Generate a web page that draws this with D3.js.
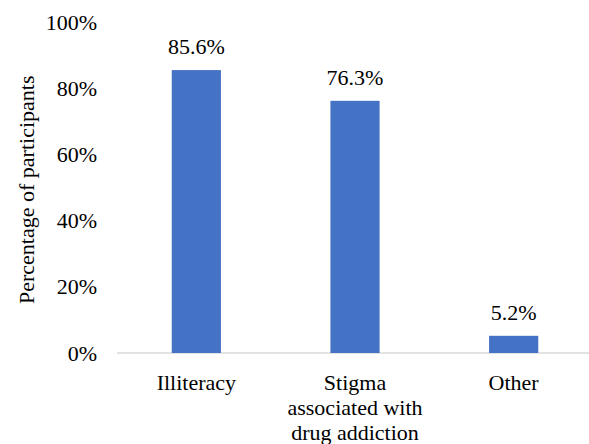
<!DOCTYPE html>
<html>
<head>
<meta charset="utf-8">
<script src="https://cdn.jsdelivr.net/npm/d3@7"></script>
<style>
  body { margin: 0; background: #fff; }
  svg, svg text { font-family: "Liberation Serif", "Times New Roman", "DejaVu Serif", serif !important; fill: #000; }
</style>
</head>
<body>
<div id="chart"></div>
<script>
// Data
const categories = ["Illiteracy", "Stigma associated with drug addiction", "Other"];
const categoryLines = [["Illiteracy"], ["Stigma", "associated with", "drug addiction"], ["Other"]];
const values = [85.6, 76.3, 5.2];
const yTicks = [0, 20, 40, 60, 80, 100];

const serif = "'Liberation Serif', 'Times New Roman', serif";

// Dimensions
const width = 589, height = 444;
const margin = { top: 22.5, right: -4, bottom: 91, left: 117 };

const svg = d3.select("#chart")
    .append("svg")
    .attr("width", width)
    .attr("height", height)
    .attr("font-family", serif);

// Scales
const x = d3.scaleBand()
    .domain(categories)
    .range([margin.left, width - margin.right])
    .paddingInner(0.69)
    .paddingOuter(0.345);

const y = d3.scaleLinear()
    .domain([0, 100])
    .range([height - margin.bottom, margin.top]);

// Y axis (labels only)
const yAxis = svg.append("g")
    .attr("transform", `translate(${margin.left},0)`)
    .call(d3.axisLeft(y).tickValues(yTicks).tickFormat(d => d + "%").tickSize(0).tickPadding(20));
yAxis.attr("font-family", serif).attr("font-size", 22);
yAxis.select(".domain").remove();
yAxis.selectAll(".tick text")
    .attr("font-family", serif)
    .attr("fill", "#000");

// Baseline
svg.append("line")
    .attr("x1", margin.left)
    .attr("x2", width)
    .attr("y1", y(0))
    .attr("y2", y(0))
    .attr("stroke", "#d9d9d9")
    .attr("stroke-width", 1.5);

// Bars
svg.selectAll(".bar")
    .data(values)
    .enter()
    .append("rect")
    .attr("class", "bar")
    .attr("x", (d, i) => x(categories[i]))
    .attr("y", d => y(d))
    .attr("width", x.bandwidth())
    .attr("height", d => y(0) - y(d))
    .attr("fill", "#4472c4");

// Value labels
svg.selectAll(".value-label")
    .data(values)
    .enter()
    .append("text")
    .attr("class", "value-label")
    .attr("x", (d, i) => x(categories[i]) + x.bandwidth() / 2)
    .attr("y", d => y(d) - 16)
    .attr("text-anchor", "middle")
    .attr("font-size", 22)
    .text(d => d.toFixed(1) + "%");

// Category labels
categoryLines.forEach((lines, i) => {
    const t = svg.append("text")
        .attr("x", x(categories[i]) + x.bandwidth() / 2)
        .attr("y", 390)
        .attr("text-anchor", "middle")
        .attr("font-size", 22);
    lines.forEach((line, j) => {
        t.append("tspan")
            .attr("x", x(categories[i]) + x.bandwidth() / 2)
            .attr("y", 390 + j * 25)
            .text(line);
    });
});

// Y axis title
svg.append("text")
    .attr("transform", `translate(34,${(y(0) + y(100)) / 2 + 2})rotate(-90)`)
    .attr("text-anchor", "middle")
    .attr("font-size", 22)
    .text("Percentage of participants");
</script>
</body>
</html>
